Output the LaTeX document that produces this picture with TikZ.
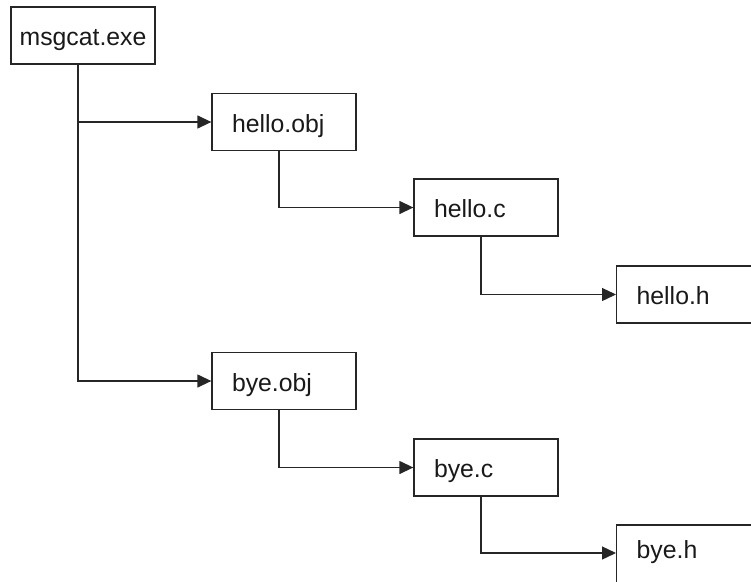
\documentclass[tikz,border=0pt]{standalone}
\usepackage{fontspec}
\setmainfont{Liberation Sans}
\usetikzlibrary{arrows.meta}
\begin{document}
\begin{tikzpicture}[x=1pt,y=-1pt,
 box/.style={draw=black!85,line width=1.3pt,rectangle,minimum width=144pt,minimum height=57pt,
   text width=104pt,inner xsep=20pt,inner ysep=0pt,align=left,text height=20pt,text depth=0pt,
   font=\fontsize{24.8}{28}\selectfont,text=black!90},
 rootbox/.style={box,text width=130pt,inner xsep=7pt,align=center},
 edgebox/.style={box,text width=140pt,minimum width=180pt},
 conn/.style={draw=black!85,line width=1.3pt,-{Triangle[length=14pt,width=13pt]}}]
\useasboundingbox (0,0) rectangle (751,581);
\clip (0,0) rectangle (751,581);
\node[rootbox] (msgcat) at (83,35.5) {msgcat.exe};
\node[box] (helloobj) at (284,122) {hello.obj};
\node[box] (helloc) at (486,207.5) {hello.c};
\node[edgebox,anchor=west] (helloh) at (616,294.5) {hello.h};
\node[box] (byeobj) at (284,381) {bye.obj};
\node[box] (byec) at (486,467.5) {bye.c};
\node[edgebox,anchor=base west,text height=33pt,text depth=33pt] (byeh) at (616,558) {bye.h};
\draw[conn] ([xshift=-5pt]msgcat.south) |- (helloobj.west);
\draw[conn] ([xshift=-5pt]msgcat.south) |- (byeobj.west);
\draw[conn] ([xshift=-5pt]helloobj.south) |- (helloc.west);
\draw[conn] ([xshift=-5pt]helloc.south) |- (helloh.west);
\draw[conn] ([xshift=-5pt]byeobj.south) |- (byec.west);
\draw[conn] ([xshift=-5pt]byec.south) |- ([yshift=5pt]byeh.west);
\end{tikzpicture}
\end{document}
